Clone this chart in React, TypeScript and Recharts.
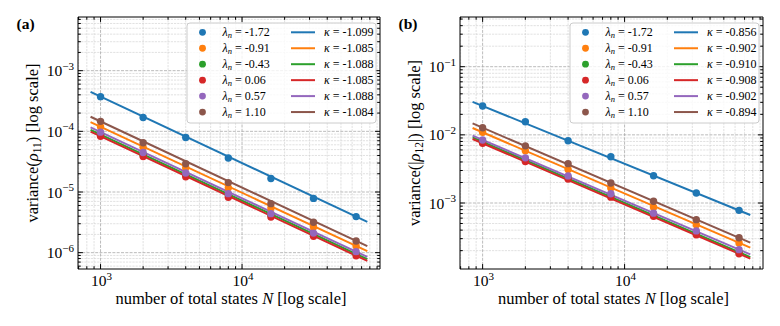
import React from 'react';
import {
    ComposedChart,
    Line,
    Scatter,
    XAxis,
    YAxis,
    CartesianGrid,
    ReferenceArea
} from 'recharts';

// tab10 colours, one per eigenvalue
const COLORS = ['#1f77b4', '#ff7f0e', '#2ca02c', '#d62728', '#9467bd', '#8c564b'];

const N_STATES = [1000, 2000, 4000, 8000, 16000, 32000, 64000];
const FIT_N = [850, 76800];
const LAMBDAS = ['-1.72', '-0.91', '-0.43', '0.06', '0.57', '1.10'];

// panel (a): variance(rho_11)
const KAPPA_A = ['-1.099', '-1.085', '-1.088', '-1.085', '-1.088', '-1.084'];
const VAR_A = [
    [3.73e-4, 1.69e-4, 7.9e-5, 3.63e-5, 1.67e-5, 7.85e-6, 3.93e-6],
    [1.19e-4, 5.45e-5, 2.5e-5, 1.17e-5, 5.46e-6, 2.65e-6, 1.29e-6],
    [8.9e-5, 4.13e-5, 1.92e-5, 8.9e-6, 4.2e-6, 1.98e-6, 9.5e-7],
    [8.3e-5, 3.84e-5, 1.78e-5, 8.2e-6, 3.87e-6, 1.86e-6, 8.9e-7],
    [9.7e-5, 4.47e-5, 2.06e-5, 9.4e-6, 4.4e-6, 2.1e-6, 1.04e-6],
    [1.46e-4, 6.5e-5, 2.93e-5, 1.43e-5, 6.43e-6, 3.17e-6, 1.56e-6]
];
const FIT_A = [
    [4.46e-4, 3.22e-6],
    [1.42e-4, 1.06e-6],
    [1.06e-4, 7.8e-7],
    [9.9e-5, 7.3e-7],
    [1.16e-4, 8.5e-7],
    [1.74e-4, 1.28e-6]
];

// panel (b): variance(|rho_12|)
const KAPPA_B = ['-0.856', '-0.902', '-0.910', '-0.908', '-0.902', '-0.894'];
const VAR_B = [
    [2.65e-2, 1.56e-2, 8.2e-3, 4.78e-3, 2.51e-3, 1.4e-3, 7.8e-4],
    [1.09e-2, 5.85e-3, 3.1e-3, 1.66e-3, 8.7e-4, 4.8e-4, 2.6e-4],
    [7.9e-3, 4.3e-3, 2.38e-3, 1.29e-3, 6.75e-4, 3.62e-4, 1.9e-4],
    [7.5e-3, 4.05e-3, 2.25e-3, 1.22e-3, 6.4e-4, 3.43e-4, 1.8e-4],
    [8.4e-3, 4.6e-3, 2.5e-3, 1.37e-3, 7.1e-4, 3.9e-4, 2.07e-4],
    [1.27e-2, 6.9e-3, 3.78e-3, 1.97e-3, 1.06e-3, 5.7e-4, 3.1e-4]
];
const FIT_B = [
    [3.05e-2, 6.67e-4],
    [1.26e-2, 2.21e-4],
    [9.16e-3, 1.61e-4],
    [8.69e-3, 1.53e-4],
    [9.73e-3, 1.76e-4],
    [1.47e-2, 2.63e-4]
];

const X_DOMAIN = [693, 94400];
const X_MAJOR = [1000, 10000];
const Y_DOMAIN_A = [5.38e-7, 7.67e-3];
const Y_MAJOR_A = [1e-6, 1e-5, 1e-4, 1e-3];
const Y_DOMAIN_B = [1.076e-4, 0.536];
const Y_MAJOR_B = [1e-3, 1e-2, 1e-1];

const FONT = '"Liberation Serif", "DejaVu Serif", serif';

function minorTicks(majors: number[], domain: number[]) {
    const out: number[] = [];
    [majors[0] / 10, ...majors].forEach(m => {
        for (let k = 2; k <= 9; k++) {
            const v = k * m;
            if (v > domain[0] && v < domain[1]) out.push(v);
        }
    });
    return out;
}

const X_MINOR = minorTicks(X_MAJOR, X_DOMAIN);

const isMajor = (v: number, majors: number[]) => majors.some(m => Math.abs(v / m - 1) < 1e-6);
const expOf = (v: number) => Math.round(Math.log10(v));

const TOP = 17;
const BOTTOM = 269;
const YW = 60;
const XH = 30;

function Panel(props: any) {
    const { left, plotLeft, plotRight, tag, yLabel, yDomain, yMajor, values, fits, kappas } = props;
    const yMinor = minorTicks(yMajor, yDomain);

    const XTick = (p: any) => {
        const v = p.payload.value;
        const major = isMajor(v, X_MAJOR);
        const len = major ? 4.9 : 2.8;
        return (
            <g>
                <line x1={p.x} x2={p.x} y1={BOTTOM} y2={BOTTOM - len} stroke="#000" strokeWidth={1} />
                <line x1={p.x} x2={p.x} y1={TOP} y2={TOP + len} stroke="#000" strokeWidth={1} />
                {major && (
                    <text x={p.x + 1} y={BOTTOM + 17} textAnchor="middle" fontSize={15.5} fontFamily={FONT} fill="#000">
                        10<tspan fontSize={11} dy={-6.5}>{expOf(v)}</tspan>
                    </text>
                )}
            </g>
        );
    };

    const YTick = (p: any) => {
        const v = p.payload.value;
        const major = isMajor(v, yMajor);
        const len = major ? 4.9 : 2.8;
        return (
            <g>
                <line x1={plotLeft} x2={plotLeft + len} y1={p.y} y2={p.y} stroke="#000" strokeWidth={1} />
                <line x1={plotRight} x2={plotRight - len} y1={p.y} y2={p.y} stroke="#000" strokeWidth={1} />
                {major && (
                    <text x={plotLeft - 4} y={p.y + 5.5} textAnchor="end" fontSize={15.5} fontFamily={FONT} fill="#000">
                        10<tspan fontSize={11} dy={-6.5}>{'\u2212' + Math.abs(expOf(v))}</tspan>
                    </text>
                )}
            </g>
        );
    };

    const series = values.flatMap((vals: number[], i: number) => [
        <Line
            key={'l' + i}
            data={FIT_N.map((n, j) => ({ N: n, v: fits[i][j] }))}
            dataKey="v"
            type="linear"
            stroke={COLORS[i]}
            strokeWidth={2}
            dot={false}
            isAnimationActive={false}
        />,
        <Scatter
            key={'s' + i}
            data={N_STATES.map((n, j) => ({ N: n, v: vals[j] }))}
            dataKey="v"
            fill={COLORS[i]}
            isAnimationActive={false}
            shape={(s: any) => <circle cx={s.cx} cy={s.cy} r={3.7} fill={COLORS[i]} />}
        />
    ]);

    const legW = 189;
    const legX = plotRight - 4 - legW;
    const legY = 23;
    const rowY = (i: number) => legY + 9.3 + i * 15.95;

    return (
        <div style={{ position: 'absolute', left, top: 0, width: 390, height: 326 }}>
            <ComposedChart
                width={390}
                height={326}
                margin={{ top: TOP, right: 390 - plotRight, bottom: 326 - BOTTOM - XH, left: plotLeft - YW }}
            >
                <CartesianGrid
                    verticalValues={X_MINOR}
                    horizontalValues={yMinor}
                    stroke="#cdcdcd"
                    strokeWidth={0.6}
                    strokeDasharray="2.2 1"
                />
                <CartesianGrid
                    verticalValues={X_MAJOR}
                    horizontalValues={yMajor}
                    stroke="#aaaaaa"
                    strokeWidth={0.8}
                    strokeDasharray="3 1.3"
                />
                <XAxis
                    dataKey="N"
                    type="number"
                    scale="log"
                    domain={X_DOMAIN}
                    allowDataOverflow
                    ticks={[...X_MINOR, ...X_MAJOR].sort((a, b) => a - b)}
                    interval={0}
                    height={XH}
                    tick={<XTick />}
                    tickLine={false}
                    axisLine={false}
                />
                <YAxis
                    dataKey="v"
                    type="number"
                    scale="log"
                    domain={yDomain}
                    allowDataOverflow
                    ticks={[...yMinor, ...yMajor].sort((a, b) => a - b)}
                    interval={0}
                    width={YW}
                    tick={<YTick />}
                    tickLine={false}
                    axisLine={false}
                />
                {series}
                <ReferenceArea
                    x1={X_DOMAIN[0]}
                    x2={X_DOMAIN[1]}
                    y1={yDomain[0]}
                    y2={yDomain[1]}
                    fill="none"
                    stroke="#000"
                    strokeWidth={1}
                    ifOverflow="visible"
                />
            </ComposedChart>

            <svg width={390} height={326} style={{ position: 'absolute', left: 0, top: 0, pointerEvents: 'none' }}>
                <text x={16.5} y={29} fontSize={15.5} fontWeight="bold" fontFamily={FONT}>{tag}</text>

                <text
                    x={(plotLeft + plotRight) / 2 + 2}
                    y={303.5}
                    textAnchor="middle"
                    fontSize={16.5}
                    fontFamily={FONT}
                >
                    number of total states <tspan fontStyle="italic">N</tspan> [log scale]
                </text>

                <text
                    x={plotLeft - 40}
                    y={(TOP + BOTTOM) / 2}
                    transform={`rotate(-90, ${plotLeft - 40}, ${(TOP + BOTTOM) / 2})`}
                    textAnchor="middle"
                    fontSize={16.5}
                    fontFamily={FONT}
                >
                    {yLabel}
                </text>

                <rect x={legX} y={legY} width={legW} height={100} rx={3} fill="rgba(255,255,255,0.8)" stroke="#cccccc" strokeWidth={1} />
                {LAMBDAS.map((lam, i) => (
                    <g key={i}>
                        <circle cx={legX + 15.5} cy={rowY(i)} r={3.4} fill={COLORS[i]} />
                        <text x={legX + 35.5} y={rowY(i) + 4} fontSize={12} fontFamily={FONT}>
                            <tspan fontStyle="italic">λ</tspan>
                            <tspan fontStyle="italic" fontSize={8.5} dy={2}>n</tspan>
                            <tspan dy={-2}>{' = ' + lam}</tspan>
                        </text>
                        <line x1={legX + 104} x2={legX + 128} y1={rowY(i)} y2={rowY(i)} stroke={COLORS[i]} strokeWidth={2} />
                        <text x={legX + 137} y={rowY(i) + 4} fontSize={12} fontFamily={FONT}>
                            <tspan fontStyle="italic">κ</tspan>
                            <tspan>{' = ' + kappas[i]}</tspan>
                        </text>
                    </g>
                ))}
            </svg>
        </div>
    );
}

export default function App() {
    return (
        <div style={{ position: 'absolute', left: 0, top: 0, width: 780, height: 326, background: '#fff', fontFamily: FONT }}>
            <Panel
                left={0}
                plotLeft={78}
                plotRight={380}
                tag="(a)"
                yLabel={
                    <>
                        variance(<tspan fontStyle="italic">ρ</tspan>
                        <tspan fontSize={11.5} dy={3}>11</tspan>
                        <tspan dy={-3}>) [log scale]</tspan>
                    </>
                }
                yDomain={Y_DOMAIN_A}
                yMajor={Y_MAJOR_A}
                values={VAR_A}
                fits={FIT_A}
                kappas={KAPPA_A}
            />
            <Panel
                left={381.5}
                plotLeft={78}
                plotRight={381}
                tag="(b)"
                yLabel={
                    <>
                        variance(|<tspan fontStyle="italic">ρ</tspan>
                        <tspan fontSize={11.5} dy={3}>12</tspan>
                        <tspan dy={-3}>|) [log scale]</tspan>
                    </>
                }
                yDomain={Y_DOMAIN_B}
                yMajor={Y_MAJOR_B}
                values={VAR_B}
                fits={FIT_B}
                kappas={KAPPA_B}
            />
        </div>
    );
}
